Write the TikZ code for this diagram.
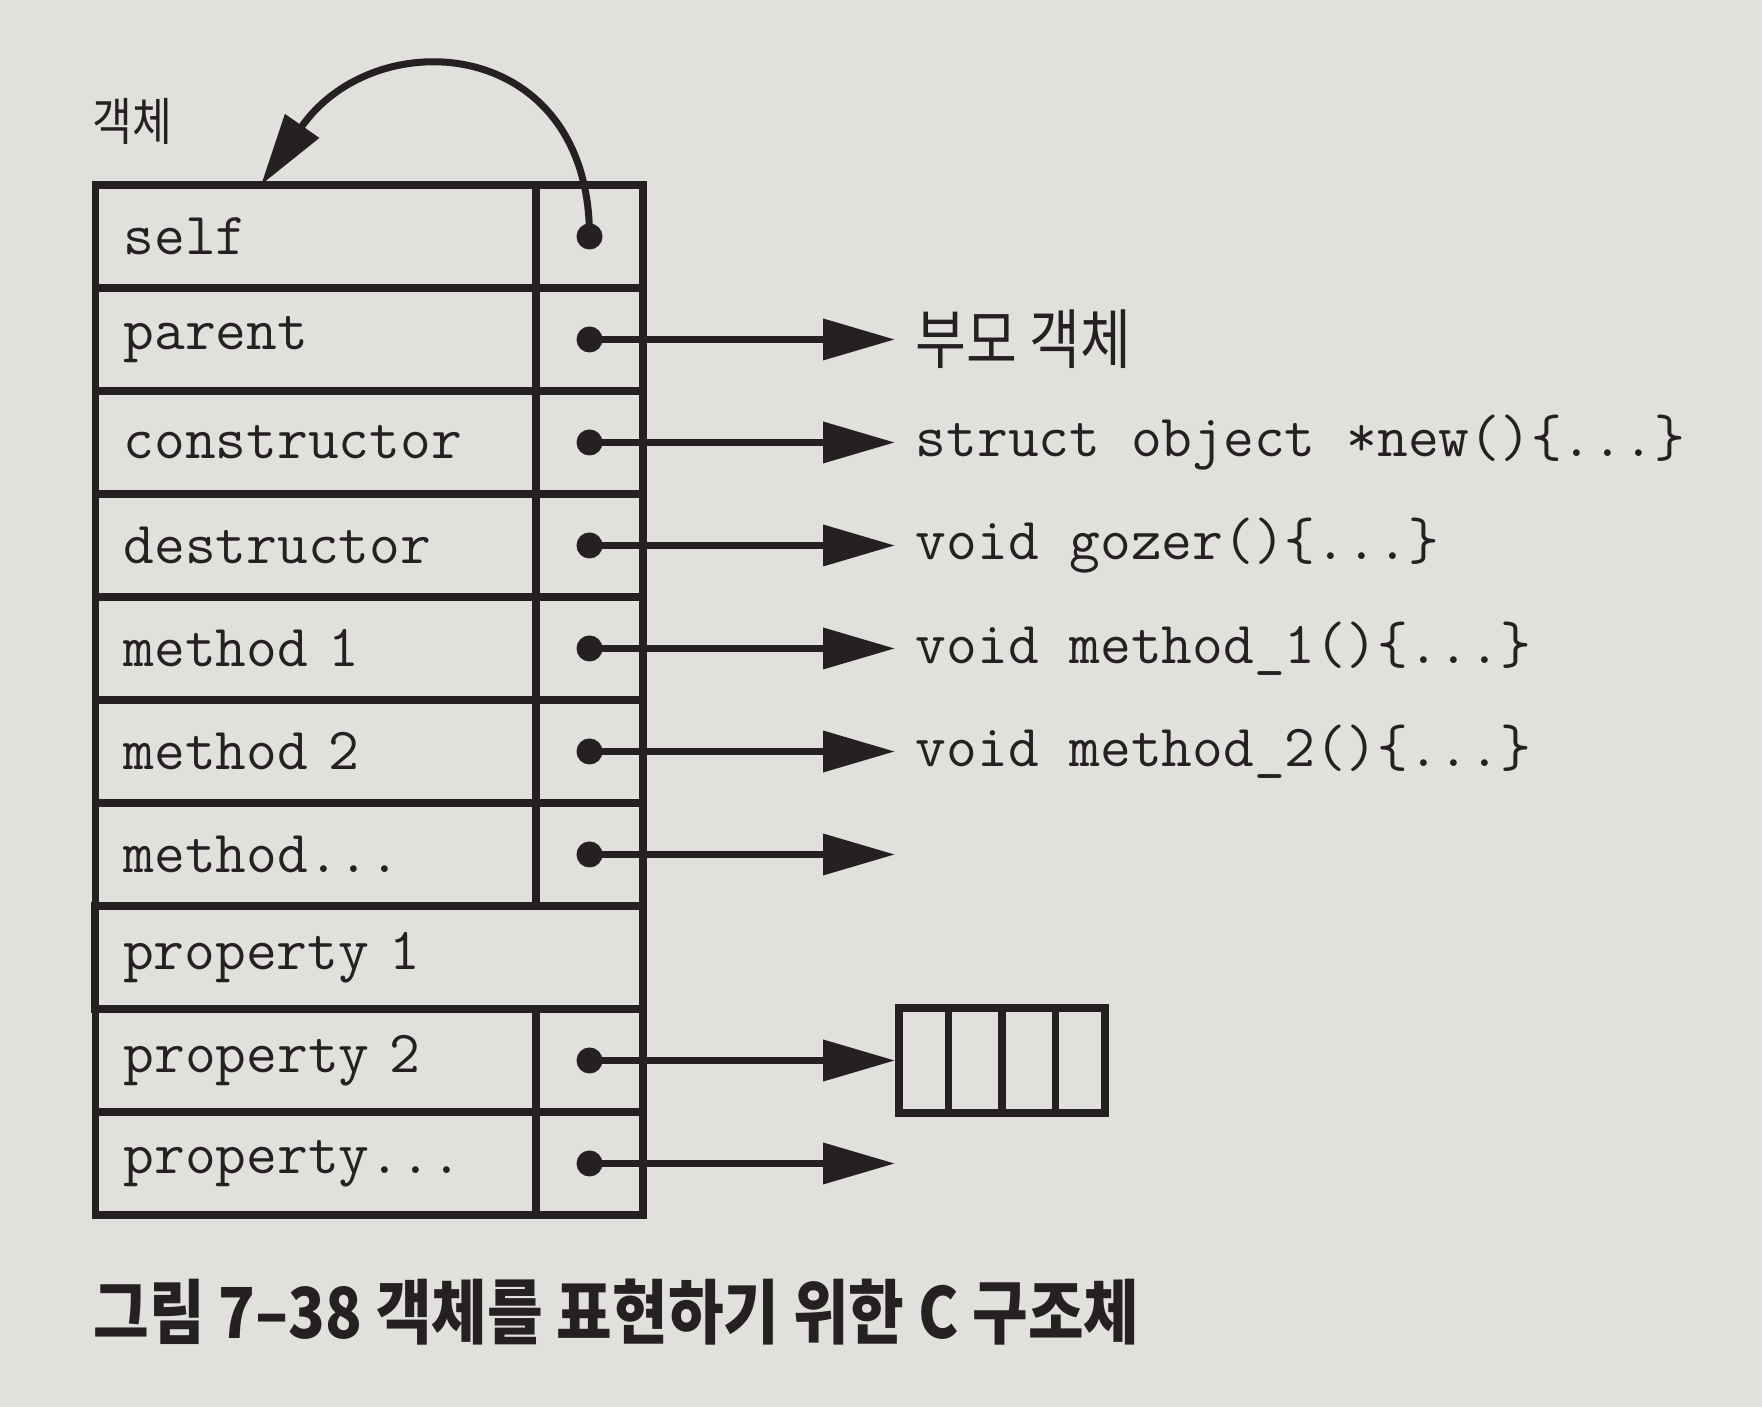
\documentclass[tikz,border=0pt]{standalone}
\usepackage{fontspec}
\newfontfamily\kor[FakeStretch=0.85]{Noto Sans CJK KR}
\newfontfamily\korcap[FakeStretch=0.86]{Noto Sans CJK KR}
\usetikzlibrary{positioning,arrows.meta,calc}
\definecolor{ink}{RGB}{38,32,34}
\definecolor{paper}{RGB}{224,224,220}

\begin{document}
\begin{tikzpicture}[
  field/.style={draw=ink, line width=2.2pt, minimum width=4.41cm, minimum height=1.03cm, text width=3.85cm, inner xsep=0.28cm, align=left, text=ink, font=\fontsize{17}{20}\selectfont\ttfamily},
  cell/.style={draw=ink, line width=2.2pt, minimum width=1.07cm, minimum height=1.03cm},
  code/.style={anchor=west, inner xsep=0.2cm, text=ink, font=\fontsize{17}{20}\selectfont\ttfamily},
  ptr/.style={draw=ink, line width=2pt, -{Triangle[length=7.2mm, width=4mm]}}
]
\fill[paper] (0,0) rectangle (17.62,14.07);

% the object record
\node[field] (self)    at (3.16, 11.705) {self};
\node[field] (parent)  at (3.16, 10.675) {parent};
\node[field] (ctor)    at (3.16, 9.645)  {constructor};
\node[field] (dtor)    at (3.16, 8.615)  {destructor};
\node[field] (meth1)   at (3.16, 7.585)  {method 1};
\node[field] (meth2)   at (3.16, 6.555)  {method 2};
\node[field] (methx)   at (3.16, 5.525)  {method...};
\node[field, minimum width=5.48cm, text width=4.92cm] (prop1) at (3.69, 4.495) {property 1};
\node[field] (prop2)   at (3.16, 3.465)  {property 2};
\node[field] (propx)   at (3.16, 2.435)  {property...};

\node[cell] (selfp)   at (5.895, 11.705) {};
\node[cell] (parentp) at (5.895, 10.675) {};
\node[cell] (ctorp)   at (5.895, 9.645)  {};
\node[cell] (dtorp)   at (5.895, 8.615)  {};
\node[cell] (meth1p)  at (5.895, 7.585)  {};
\node[cell] (meth2p)  at (5.895, 6.555)  {};
\node[cell] (methxp)  at (5.895, 5.525)  {};
\node[cell] (prop2p)  at (5.895, 3.465)  {};
\node[cell] (propxp)  at (5.895, 2.435)  {};

\node[anchor=west, inner sep=0, text=ink, font=\kor\fontsize{14.5}{16}\selectfont] (objlbl) at (0.92, 12.86) {객체};

% targets
\node[code, font=\kor\fontsize{18.5}{21}\selectfont] (parentobj) at (8.95, 10.675) {부모 객체};
\node[code] (newfn)   at (8.95, 9.645) {struct object *new()\{...\}};
\node[code] (gozerfn) at (8.95, 8.615) {void gozer()\{...\}};
\node[code] (m1fn)    at (8.95, 7.585) {void method\_1()\{...\}};
\node[code] (m2fn)    at (8.95, 6.555) {void method\_2()\{...\}};
\coordinate (methend) at (8.95, 5.525);
\coordinate (propend) at (8.95, 2.435);

\node[draw=ink, line width=2.2pt, minimum width=2.06cm, minimum height=1.05cm] (arr) at (10.02, 3.465) {};
\draw[ink, line width=2.2pt] ($(arr.north west)!0.25!(arr.north east)$) -- ($(arr.south west)!0.25!(arr.south east)$);
\draw[ink, line width=2.2pt] ($(arr.north west)!0.5!(arr.north east)$) -- ($(arr.south west)!0.5!(arr.south east)$);
\draw[ink, line width=2.2pt] ($(arr.north west)!0.75!(arr.north east)$) -- ($(arr.south west)!0.75!(arr.south east)$);

% pointers
\coordinate (selftip) at (2.61, 12.22);
\draw[ptr] (selfp.center) .. controls +(0,2.0) and +(1.15,1.65) .. (selftip);
\draw[ptr] (parentp.center) -- (parentp.center -| parentobj.west);
\draw[ptr] (ctorp.center) -- (ctorp.center -| newfn.west);
\draw[ptr] (dtorp.center) -- (dtorp.center -| gozerfn.west);
\draw[ptr] (meth1p.center) -- (meth1p.center -| m1fn.west);
\draw[ptr] (meth2p.center) -- (meth2p.center -| m2fn.west);
\draw[ptr] (methxp.center) -- (methend);
\draw[ptr] (prop2p.center) -- (arr.west);
\draw[ptr] (propxp.center) -- (propend);

\fill[ink] (selfp) circle (0.13);
\fill[ink] (parentp) circle (0.13);
\fill[ink] (ctorp) circle (0.13);
\fill[ink] (dtorp) circle (0.13);
\fill[ink] (meth1p) circle (0.13);
\fill[ink] (meth2p) circle (0.13);
\fill[ink] (methxp) circle (0.13);
\fill[ink] (prop2p) circle (0.13);
\fill[ink] (propxp) circle (0.13);

\node[anchor=west, inner sep=0, text=ink, font=\korcap\fontsize{20}{23}\selectfont\bfseries] (caption) at (0.93, 0.95) {그림 7–38 객체를 표현하기 위한 C 구조체};

\end{tikzpicture}
\end{document}
